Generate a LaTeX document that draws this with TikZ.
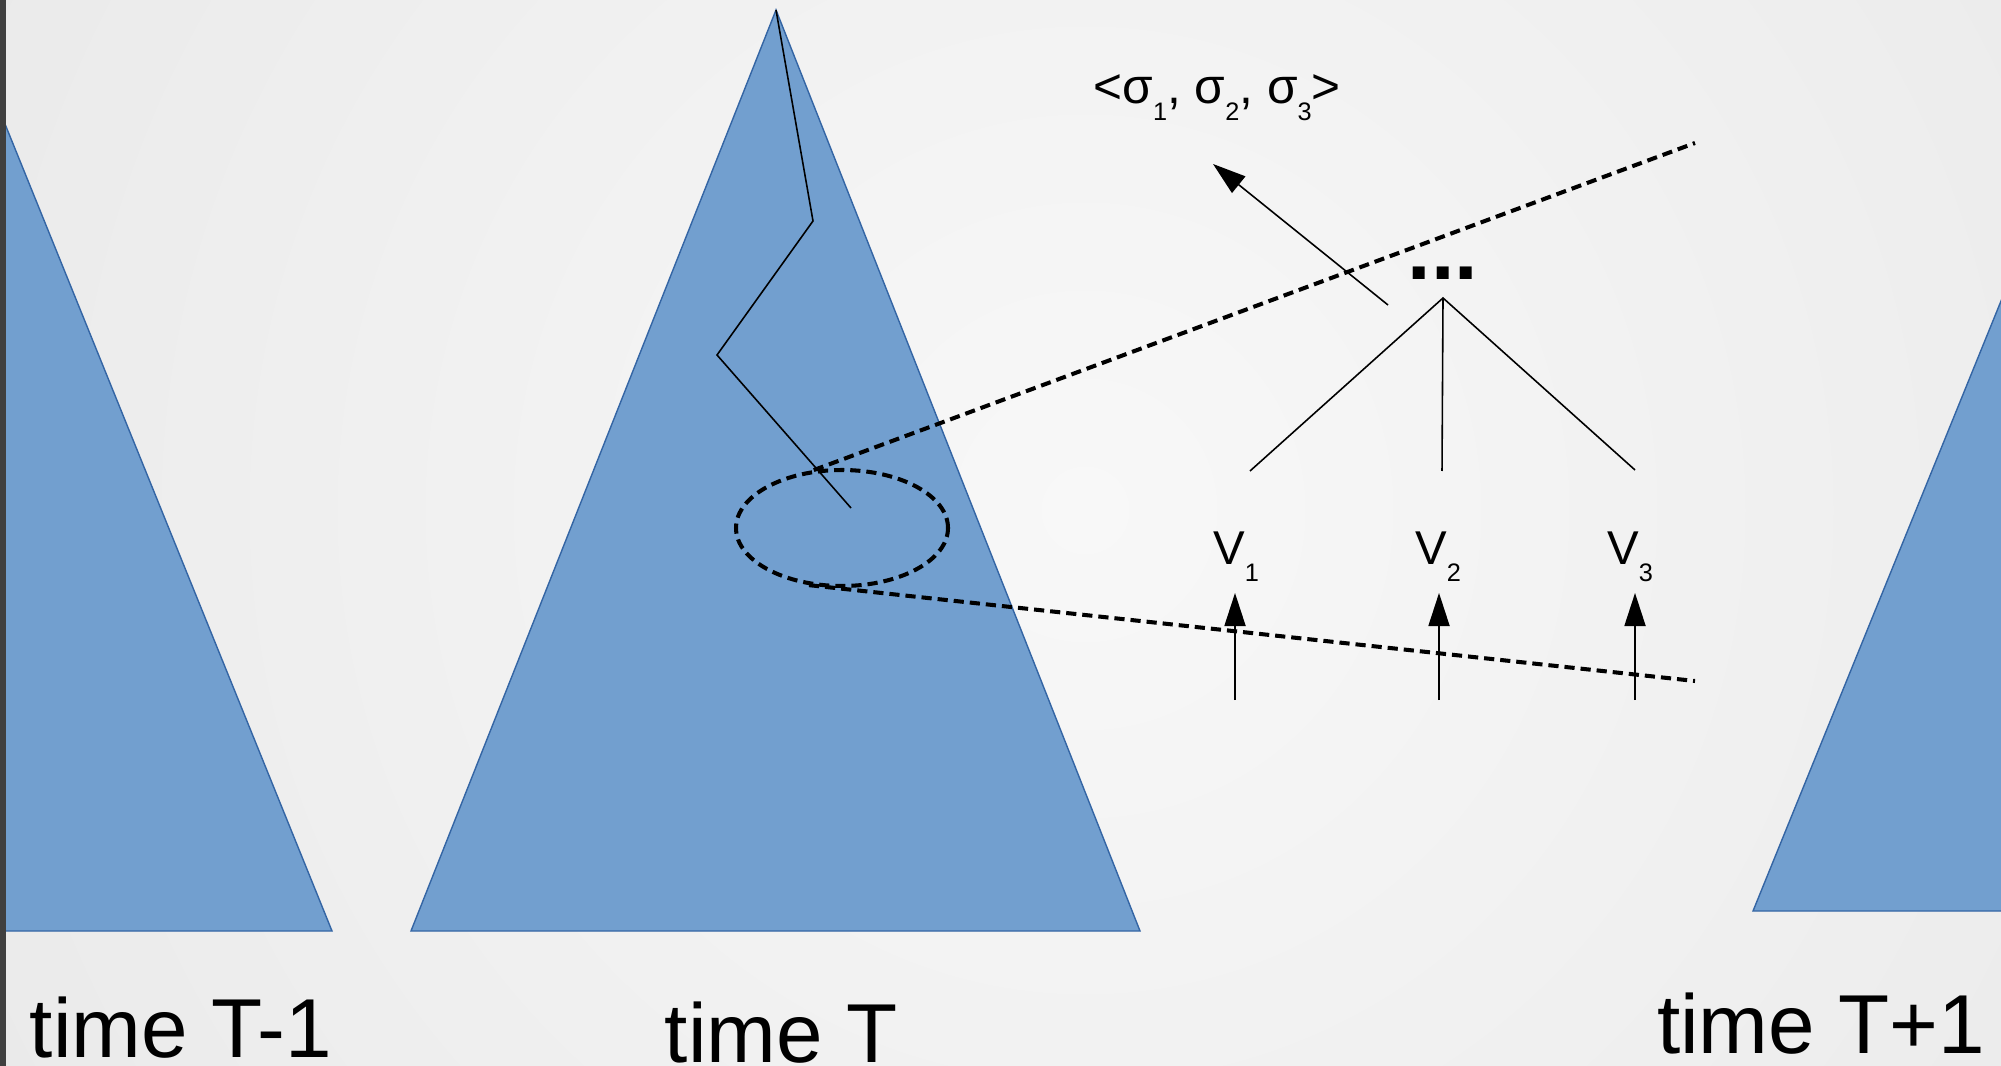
\documentclass[tikz,border=0pt]{standalone}
\usepackage{fontspec}
\setmainfont{Liberation Sans}
\usetikzlibrary{arrows.meta,shapes.geometric}

\definecolor{triblue}{HTML}{729FCF}
\definecolor{triedge}{HTML}{3465A4}
\definecolor{bgin}{HTML}{F8F8F8}
\definecolor{bgout}{HTML}{DFDFDF}
\definecolor{winedge}{HTML}{404040}

\newcommand{\lowsub}[1]{\raisebox{-4.8pt}{\fontsize{7.2}{8}\selectfont #1}}

\begin{document}
\begin{tikzpicture}[
  tree/.style={fill=triblue, draw=triedge, line width=0.4pt},
  thin/.style={line width=0.45pt},
  arr/.style={line width=0.45pt, -{Triangle[length=9.4pt,width=6pt]}},
  dashline/.style={line width=1.15pt, dash pattern=on 2.9pt off 1.7pt},
  timelabel/.style={font=\fontsize{23.8}{28}\selectfont, inner sep=0pt, anchor=base},
  small/.style={font=\fontsize{13.5}{16}\selectfont, inner sep=0pt, anchor=base}
]

% ----- Frame and background
\useasboundingbox (0,0) rectangle (20.01,-10.66);
\clip (0,0) rectangle (20.01,-10.66);
\fill[bgout] (0,0) rectangle (20.01,-10.66);
\shade[inner color=bgin, outer color=bgout] (10.85,-5.1) circle (22);

% ----- Fixed coordinates for the three trees
\coordinate (Lapex) at (0.05,-1.24);
\coordinate (Tapex) at (7.76,-0.10);
\coordinate (Rapex) at (20.01,-3.01);

\fill[tree] (Lapex) -- (3.32,-9.31) -- (-3.22,-9.31) -- cycle;
\fill[tree] (Tapex) -- (11.40,-9.31) -- (4.11,-9.31) -- cycle;
\fill[tree] (Rapex) -- (22.49,-9.11) -- (17.53,-9.11) -- cycle;
\draw[winedge, fill=winedge] (0,0) rectangle (0.05,-10.66);

% ----- Path down the tree at time T
\coordinate (p1) at (8.13,-2.21);
\coordinate (p2) at (7.17,-3.55);
\coordinate (p3) at (8.51,-5.08);
\draw[thin] (Tapex) -- (p1) -- (p2) -- (p3);

% ----- Zoomed region
\node[draw, dashline, ellipse, minimum width=2.12cm, minimum height=1.16cm, inner sep=0pt] (focus) at (8.42,-5.28) {};
\coordinate (upend) at (16.95,-1.43);
\coordinate (lowend) at (16.95,-6.81);
\draw[dashline] (focus.116) -- (upend);
\draw[dashline] (focus.240) -- (lowend);

% ----- Node expansion
\node[font=\fontsize{24}{28}\selectfont\bfseries, inner sep=0pt, anchor=base] (dots) at (14.43,-2.80) {...};
\coordinate (root) at (14.43,-2.98);
\coordinate (c1) at (12.50,-4.71);
\coordinate (c2) at (14.42,-4.71);
\coordinate (c3) at (16.35,-4.70);
\draw[thin] (c1) -- (root) -- (c3);
\draw[thin] (root) -- (c2);

% values in, sigma out
\foreach \i/\ax/\lx in {1/12.35/12.36, 2/14.39/14.38, 3/16.35/16.30} {
  \coordinate (in\i) at (\ax,-7.00);
  \coordinate (vt\i) at (\ax,-5.93);
  \draw[arr] (in\i) -- (vt\i);
  \node[small] (v\i) at (\lx,-5.65) {V\lowsub{\i}};
}

\coordinate (out) at (13.88,-3.05);
\coordinate (outtip) at (12.13,-1.64);
\draw[arr] (out) -- (outtip);
\node[small, font=\fontsize{14.1}{16}\selectfont, anchor=base west] (sig) at (10.93,-1.04) {<σ\lowsub{1}, σ\lowsub{2}, σ\lowsub{3}>};

% ----- Time labels
\node[timelabel] (tm1) at (1.81,-10.57) {time T-1};
\node[timelabel] (t0) at (7.81,-10.62) {time T};
\node[timelabel] (tp1) at (18.21,-10.53) {time T+1};

\end{tikzpicture}
\end{document}
